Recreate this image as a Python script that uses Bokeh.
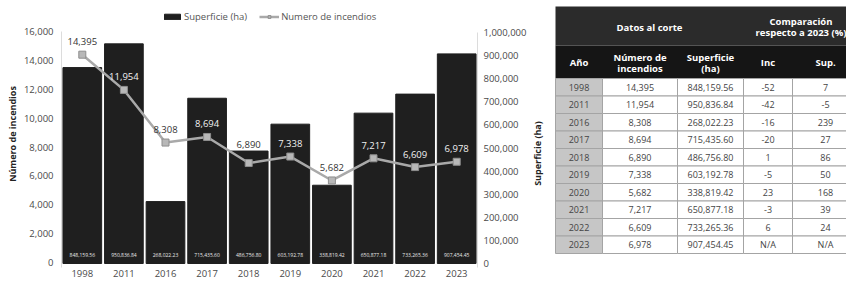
import math
from bokeh.plotting import figure
from bokeh.models import (ColumnDataSource, Range1d, LinearAxis, NumeralTickFormatter,
                          FixedTicker, Legend, LegendItem, FactorRange)
from bokeh.layouts import row
from bokeh.embed import file_html
from bokeh.resources import INLINE
from bokeh.core.properties import value

# ---------------- data ----------------
years = ["1998", "2011", "2016", "2017", "2018", "2019", "2020", "2021", "2022", "2023"]
incendios = [14395, 11954, 8308, 8694, 6890, 7338, 5682, 7217, 6609, 6978]
superficie = [848159.56, 950836.84, 268022.23, 715435.60, 486756.80,
              603192.78, 338819.42, 650877.18, 733265.36, 907454.45]
inc_pct = ["-52", "-42", "-16", "-20", "1", "-5", "23", "-3", "6", "N/A"]
sup_pct = ["7", "-5", "239", "27", "86", "50", "168", "39", "24", "N/A"]
left_ticks = [0, 2000, 4000, 6000, 8000, 10000, 12000, 14000, 16000]
right_ticks = [0, 100000, 200000, 300000, 400000, 500000, 600000, 700000, 800000, 900000, 1000000]

FONT = "Open Sans"
TXT = "#4a4a4a"
H = 282

# ---------------- chart ----------------
FRAME_BOT = 267                       # frame spans fig y 0..FRAME_BOT
L_TOP_PX, L_ZERO_PX = 31, 262         # pixel rows of 16,000 and 0 (left)
R_TOP_PX, R_ZERO_PX = 32, 263         # pixel rows of 1,000,000 and 0 (right)
L_SCALE = 16000 / (L_ZERO_PX - L_TOP_PX)
L0 = -(FRAME_BOT - L_ZERO_PX) * L_SCALE
L1 = L_ZERO_PX * L_SCALE
R_SCALE = 1000000 / (R_ZERO_PX - R_TOP_PX)
R0 = -(FRAME_BOT - R_ZERO_PX) * R_SCALE
R1 = R_ZERO_PX * R_SCALE

CW = 530
p = figure(x_range=FactorRange(*years), y_range=Range1d(L0, L1),
           width=CW, height=H, output_backend="svg", toolbar_location=None, title=None,
           min_border_left=61, min_border_right=CW - 477, min_border_top=0,
           min_border_bottom=H - FRAME_BOT)
p.extra_y_ranges = {"sup": Range1d(R0, R1)}
p.outline_line_color = None
p.xgrid.grid_line_color = None
p.ygrid.grid_line_color = None

# left axis
ya = p.yaxis[0]
ya.ticker = FixedTicker(ticks=left_ticks)
ya.bounds = (L0, 16000)
ya.formatter = NumeralTickFormatter(format="0,0")
ya.major_tick_line_color = None
ya.major_tick_out = 0
ya.major_tick_in = 0
ya.minor_tick_line_color = None
ya.axis_line_color = "#dcdcdc"
ya.major_label_standoff = 8
ya.major_label_text_font = FONT
ya.major_label_text_font_size = "9.5px"
ya.major_label_text_color = TXT
ya.axis_label = "Número de incendios"
ya.axis_label_text_font = FONT
ya.axis_label_text_font_style = "bold"
ya.axis_label_text_font_size = "9px"
ya.axis_label_text_color = "#222222"
ya.axis_label_standoff = 2

# right axis (its title is drawn next to it, reading bottom-to-top)
ra = LinearAxis(y_range_name="sup", ticker=FixedTicker(ticks=right_ticks),
                formatter=NumeralTickFormatter(format="0,0"),
                bounds=(R0, 1000000))
ra.major_tick_line_color = None
ra.major_tick_out = 0
ra.major_tick_in = 0
ra.minor_tick_line_color = None
ra.axis_line_color = "#dcdcdc"
ra.major_label_standoff = 6
ra.major_label_text_font = FONT
ra.major_label_text_font_size = "9.5px"
ra.major_label_text_color = TXT
p.add_layout(ra, "right")

# x axis
xa = p.xaxis[0]
xa.axis_line_color = None
xa.major_tick_line_color = None
xa.major_tick_out = 0
xa.major_tick_in = 0
xa.minor_tick_line_color = None
xa.major_label_standoff = 2
xa.major_label_text_font = FONT
xa.major_label_text_font_size = "9.5px"
xa.major_label_text_color = TXT

src = ColumnDataSource(dict(
    year=years, inc=incendios, sup=superficie,
    inc_txt=[f"{v:,}" for v in incendios],
    sup_txt=[f"{v:,.2f}" for v in superficie],
))

bars = p.vbar(x="year", top="sup", bottom=0, width=0.93, source=src, y_range_name="sup",
              fill_color="#1f1f1f", line_color="#1f1f1f")

line = p.line(x="year", y="inc", source=src, line_color="#a9a9a9", line_width=2.5)
marks = p.scatter(x="year", y="inc", source=src, marker="square", size=7,
                  fill_color="#b8b8b8", line_color="#8e8e8e", line_width=1)

# label placement: inside the bar (white) when it fits, otherwise above the bar (dark)
OFF = 13
lab_cols, lab_offs = [], []
for i, s in zip(incendios, superficie):
    bar_top_px = R_ZERO_PX - s / R_SCALE          # screen row of the bar top
    mark_px = L_ZERO_PX - i / L_SCALE              # screen row of the marker
    lab_px = mark_px - OFF
    if lab_px - 4 > bar_top_px:
        lab_cols.append("#f2f2f2")
        lab_offs.append(-OFF)
    else:
        lab_cols.append("#333333")
        lab_offs.append(-max(OFF, mark_px - bar_top_px + 7))
src.data["lab_col"] = lab_cols
src.data["lab_off"] = lab_offs

p.text(x="year", y="inc", text="inc_txt", source=src, y_offset="lab_off",
       text_align="center", text_baseline="middle", text_color="lab_col",
       text_font=value(FONT), text_font_size="9.5px")

p.text(x="year", y=0, text="sup_txt", source=src, y_range_name="sup", y_offset=-9,
       text_align="center", text_baseline="middle", text_color="#e8e8e8",
       text_font=value(FONT), text_font_size="5px")

legend = Legend(items=[LegendItem(label="Superficie (ha)", renderers=[bars]),
                       LegendItem(label="Numero de incendios", renderers=[line, marks])],
                orientation="horizontal", location=(101, FRAME_BOT - 23),
                label_text_font=FONT, label_text_font_size="9.5px", label_text_color="#555555",
                glyph_width=20, glyph_height=7, label_height=10, label_standoff=2,
                spacing=12, padding=0, margin=0, background_fill_alpha=0,
                border_line_color=None)
p.add_layout(legend)

# ---------------- table ----------------
# the row layout aligns this figure's frame with the chart's frame (0..FRAME_BOT)
TW = 846 - CW
t = figure(width=TW, height=H, x_range=Range1d(0, TW), y_range=Range1d(FRAME_BOT, 0),
           output_backend="svg", toolbar_location=None, x_axis_type=None, y_axis_type=None,
           min_border=0, title=None)
t.outline_line_color = None
t.xgrid.grid_line_color = None
t.ygrid.grid_line_color = None

# title of the chart's right axis (sits just left of the table)
t.text(x=[7], y=[153], text=["Superficie (ha)"], angle=math.pi / 2,
       text_align="center", text_baseline="middle", text_color="#222222",
       text_font=value(FONT), text_font_style="bold", text_font_size="9px")

col_edges = [25, 72, 147, 213, 262, 328]
h1_top, h1_bot, h2_bot = 6, 45, 78
row_h = 17.5

t.quad(left=[col_edges[0]], right=[col_edges[-1]], top=[h1_top], bottom=[h1_bot],
       fill_color="#2b2b2b", line_color=None)
t.quad(left=[col_edges[0]], right=[col_edges[-1]], top=[h1_bot], bottom=[h2_bot],
       fill_color="#151515", line_color=None)

cl, cr, ct, cb, cf = [], [], [], [], []
for r in range(len(years)):
    top = h2_bot + r * row_h
    for c in range(5):
        cl.append(col_edges[c]); cr.append(col_edges[c + 1])
        ct.append(top); cb.append(top + row_h)
        cf.append("#c6c6c6" if c == 0 else "white")
t.quad(left=cl, right=cr, top=ct, bottom=cb, fill_color=cf, line_color="#a4a4a4", line_width=1)

centers = [(col_edges[c] + col_edges[c + 1]) / 2 for c in range(5)]
hdr = dict(text_align="center", text_baseline="middle", text_color="white",
           text_font=value(FONT), text_font_style="bold", text_font_size="9.5px")
h1_mid = (h1_top + h1_bot) / 2
t.text(x=[(col_edges[0] + col_edges[3]) / 2], y=[h1_mid + 1], text=["Datos al corte"], **hdr)
t.text(x=[(col_edges[3] + col_edges[5]) / 2] * 2, y=[h1_mid - 5, h1_mid + 6],
       text=["Comparación", "respecto a 2023 (%)"], **hdr)
h2_mid = (h1_bot + h2_bot) / 2
t.text(x=[centers[0], centers[3], centers[4]], y=[h2_mid] * 3, text=["Año", "Inc", "Sup."], **hdr)
t.text(x=[centers[1], centers[1], centers[2], centers[2]],
       y=[h2_mid - 5, h2_mid + 6, h2_mid - 5, h2_mid + 6],
       text=["Número de", "incendios", "Superficie", "(ha)"], **hdr)

row_mid = [h2_bot + (r + 0.5) * row_h for r in range(len(years))]
cell = dict(text_align="center", text_baseline="middle", text_color="#444444",
            text_font=value(FONT), text_font_size="9px")
t.text(x=[centers[0]] * len(years), y=row_mid, text=years, **cell)
t.text(x=[centers[1]] * len(years), y=row_mid, text=[f"{v:,}" for v in incendios], **cell)
t.text(x=[centers[2]] * len(years), y=row_mid, text=[f"{v:,.2f}" for v in superficie], **cell)
t.text(x=[centers[3]] * len(years), y=row_mid, text=inc_pct, **cell)
t.text(x=[centers[4]] * len(years), y=row_mid, text=sup_pct, **cell)

layout = row(p, t)
open("out.html", "w").write(file_html(layout, INLINE))
